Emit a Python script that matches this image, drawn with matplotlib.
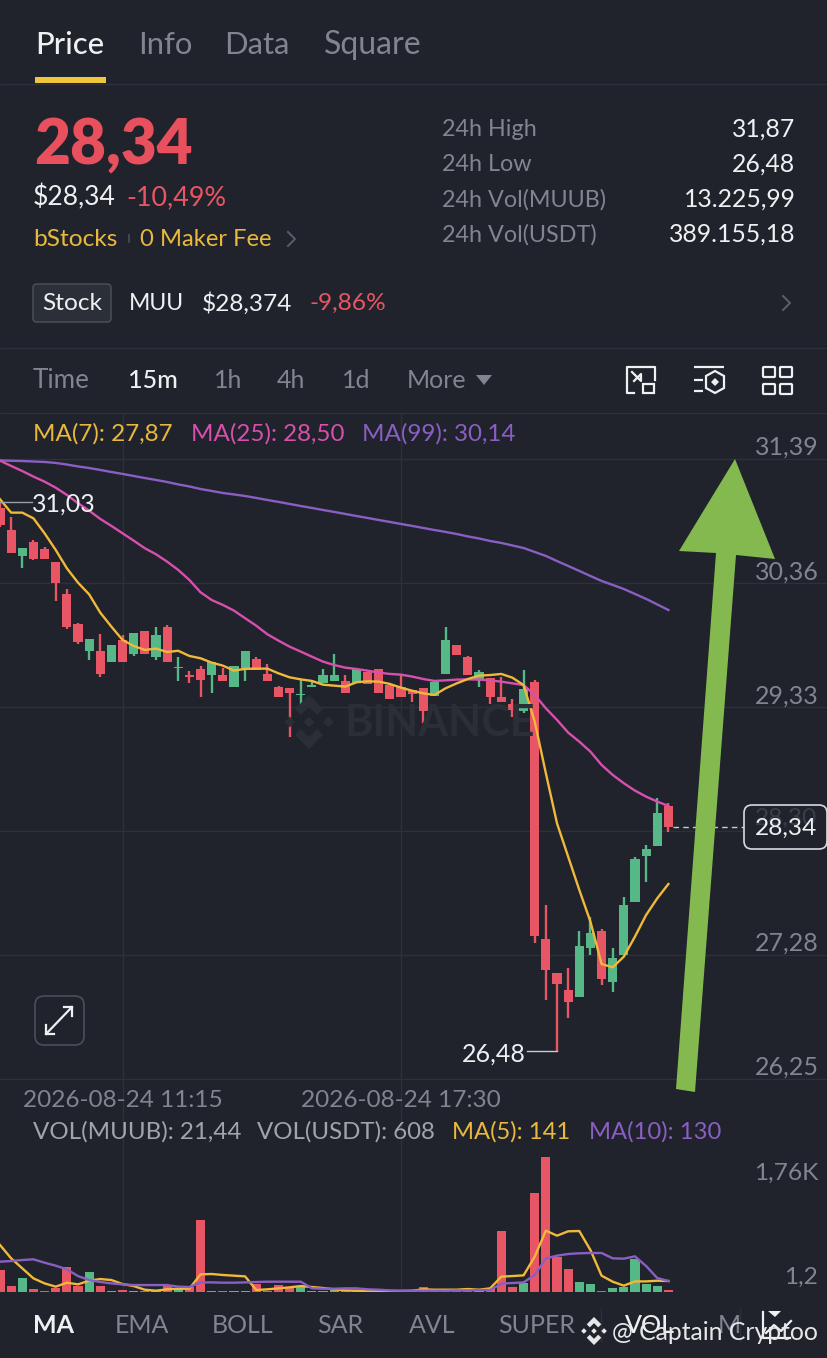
import matplotlib
matplotlib.use("Agg")
import matplotlib.pyplot as plt
import numpy as np
from matplotlib.patches import Polygon, FancyBboxPatch, Rectangle

plt.rcParams['font.family'] = ['Lato', 'DejaVu Sans']

# candles, oldest first
opens = [30.98, 30.80, 30.586, 30.705, 30.64, 30.54, 30.27, 30.02, 29.80, 29.80, 29.705, 29.89, 29.77, 29.96, 29.75, 30.00,
         29.655, 29.597, 29.647, 29.60, 29.60, 29.50, 29.64, 29.73, 29.61, 29.497, 29.489, 29.431, 29.503, 29.53, 29.552,
         29.55, 29.536, 29.62, 29.65, 29.516, 29.497, 29.475, 29.489, 29.422, 29.605, 29.848, 29.751, 29.558, 29.572,
         29.417, 29.359, 29.30, 29.539, 27.414, 27.132, 26.991, 26.933, 27.337, 27.475, 27.058, 27.279, 27.718, 28.099,
         28.179, 28.517]
closes = [30.843, 30.61, 30.655, 30.558, 30.558, 30.36, 29.995, 29.876, 29.90, 29.61, 29.85, 29.705, 29.95, 29.77, 29.93, 29.705,
          29.663, 29.585, 29.56, 29.705, 29.55, 29.67, 29.80, 29.64, 29.55, 29.42, 29.453, 29.445, 29.519, 29.60, 29.60,
          29.45, 29.646, 29.525, 29.45, 29.40, 29.414, 29.442, 29.30, 29.544, 29.889, 29.762, 29.602, 29.62, 29.42,
          29.373, 29.312, 29.481, 27.436, 27.154, 27.036, 26.892, 27.353, 27.464, 27.077, 27.251, 27.693, 28.074, 28.155,
          28.459, 28.342]
highs = [31.03, 30.91, 30.655, 30.72, 30.66, 30.54, 30.31, 30.03, 29.90, 29.94, 29.85, 29.93, 29.95, 29.96, 30.00, 30.01,
         29.75, 29.63, 29.67, 29.705, 29.655, 29.67, 29.80, 29.75, 29.69, 29.51, 29.489, 29.558, 29.558, 29.65, 29.77,
         29.60, 29.646, 29.62, 29.65, 29.516, 29.60, 29.475, 29.489, 29.544, 30.00, 29.848, 29.76, 29.64, 29.572,
         29.58, 29.40, 29.64, 29.558, 27.693, 27.132, 27.174, 27.478, 27.596, 27.491, 27.334, 27.757, 28.094, 28.188,
         28.577, 28.536]
lows = [30.83, 30.61, 30.49, 30.555, 30.558, 30.21, 29.98, 29.854, 29.72, 29.585, 29.705, 29.705, 29.76, 29.77, 29.72, 29.705,
        29.55, 29.53, 29.42, 29.45, 29.55, 29.50, 29.55, 29.64, 29.55, 29.42, 29.083, 29.351, 29.503, 29.53, 29.552,
        29.45, 29.536, 29.525, 29.45, 29.40, 29.414, 29.378, 29.20, 29.422, 29.605, 29.762, 29.602, 29.497, 29.359,
        29.373, 29.248, 29.282, 27.375, 26.906, 26.48, 26.754, 26.933, 27.279, 27.03, 26.975, 27.279, 27.718, 27.887,
        28.179, 28.298]

ma7 = [31.056, 30.945, 30.945, 30.898, 30.774, 30.636, 30.484, 30.365, 30.268, 30.116, 30.00, 29.89, 29.84, 29.807, 29.818,
       29.79, 29.80, 29.757, 29.738, 29.702, 29.677, 29.636, 29.65, 29.652, 29.652, 29.613, 29.58, 29.563, 29.55, 29.519,
       29.511, 29.503, 29.539, 29.547, 29.544, 29.525, 29.494, 29.469, 29.447, 29.434, 29.489, 29.53, 29.566, 29.594,
       29.599, 29.608, 29.577, 29.516, 29.213, 28.785, 28.37, 28.094, 27.818, 27.555, 27.204, 27.176, 27.265, 27.431,
       27.61, 27.748, 27.867]
ma25 = [31.376, 31.332, 31.29, 31.244, 31.202, 31.152, 31.092, 31.023, 30.962, 30.893, 30.835, 30.774, 30.713, 30.65, 30.60,
        30.539, 30.47, 30.387, 30.285, 30.221, 30.18, 30.133, 30.07, 30.008, 29.937, 29.884, 29.834, 29.793, 29.751, 29.71,
        29.682, 29.66, 29.649, 29.635, 29.619, 29.608, 29.602, 29.586, 29.566, 29.55, 29.555, 29.561, 29.563, 29.561,
        29.555, 29.544, 29.53, 29.516, 29.434, 29.323, 29.227, 29.122, 29.047, 28.964, 28.854, 28.771, 28.702, 28.641,
        28.591, 28.55, 28.514]
ma99 = [31.378, 31.375, 31.373, 31.369, 31.365, 31.357, 31.344, 31.328, 31.315, 31.299, 31.282, 31.266, 31.249, 31.232,
        31.216, 31.199, 31.179, 31.162, 31.141, 31.125, 31.108, 31.096, 31.083, 31.067, 31.05, 31.034, 31.017, 31.0, 30.984,
        30.967, 30.951, 30.934, 30.917, 30.901, 30.884, 30.868, 30.851, 30.835, 30.818, 30.801, 30.785, 30.768, 30.748,
        30.731, 30.71, 30.694, 30.673, 30.652, 30.619, 30.586, 30.544, 30.503, 30.462, 30.42, 30.379, 30.346, 30.312,
        30.271, 30.23, 30.184, 30.138]

volumes = [284, 79, 175, 35, 5, 44, 319, 79, 258, 79, 4, 26, 5, 6, 6, 79, 35, 66, 935, 4, 4, 4, 4, 100, 4, 88, 52, 79, 5, 5,
           26, 4, 4, 4, 4, 4, 4, 4, 66, 8, 5, 5, 52, 5, 44, 800, 57, 110, 1288, 1760, 459, 292, 131, 105, 6, 44, 66, 424,
           105, 74, 21]
vol_ma5 = [612, 437, 306, 175, 109, 66, 118, 96, 144, 166, 153, 100, 74, 26, 13, 31, 39, 39, 227, 232, 219, 210, 201, 22, 31,
           44, 57, 74, 61, 48, 31, 17, 13, 9, 9, 9, 9, 13, 31, 26, 26, 26, 35, 26, 44, 197, 205, 214, 459, 800, 734, 791,
           795, 546, 210, 131, 79, 135, 135, 144, 140]
vol_ma10 = [393, 402, 415, 424, 380, 341, 293, 205, 153, 127, 109, 96, 87, 87, 87, 87, 66, 61, 122, 122, 118, 118, 122, 127,
            131, 131, 131, 131, 44, 39, 39, 44, 44, 31, 26, 17, 13, 13, 13, 13, 13, 17, 17, 22, 22, 105, 114, 122, 219, 437,
            472, 494, 503, 507, 507, 437, 433, 463, 336, 179, 140]

price_ticks = [31.39, 30.36, 29.33, 28.31, 27.28, 26.25]
price_labels = ['31,39', '30,36', '29,33', '', '27,28', '26,25']
time_idx = [11, 36]
time_labels = ['2026-08-24 11:15', '2026-08-24 17:30']
last_price = 28.34

BG = '#20232b'
GRID = '#2d313b'
RED = '#e85564'
GREEN = '#56b886'
YELLOW = '#f0b93a'
PINK = '#d94fb0'
PURPLE = '#8a5fc4'
GREY = '#80858f'
WHITE = '#eef0f2'

W, H = 828, 1358
fig = plt.figure(figsize=(W / 100, H / 100), dpi=100, facecolor=BG)


def pane(top, bottom):
    ax = fig.add_axes([0, 1 - bottom / H, 1, (bottom - top) / H], facecolor='none')
    for s in ax.spines.values():
        s.set_visible(False)
    ax.set_xticks([])
    ax.set_yticks([])
    ax.set_xlim(0, W / 11.14)
    return ax


opens, closes, highs, lows = map(np.array, (opens, closes, highs, lows))
idx = np.arange(len(opens))
is_up = closes >= opens
colors = [GREEN if u else RED for u in is_up]

# price pane, 413..1115 px
ax = pane(413, 1115)
ax.set_ylim(25.952, 31.771)
for t in price_ticks:
    ax.axhline(t, color=GRID, lw=1, zorder=1)
for t in time_idx:
    ax.axvline(t, color=GRID, lw=1, zorder=1)
ax.vlines(idx, lows, highs, colors=colors, lw=1.7, zorder=3)
body = np.maximum(np.abs(closes - opens), 0.012)
ax.bar(idx, body, bottom=np.minimum(opens, closes), width=0.82, color=colors, zorder=3)
ax.plot(idx, ma99, color=PURPLE, lw=1.7, zorder=4)
ax.plot(idx, ma25, color=PINK, lw=1.7, zorder=5)
ax.plot(idx, ma7, color=YELLOW, lw=1.7, zorder=6)
for t, s in zip(price_ticks, price_labels):
    ax.annotate(s, (W, t), xycoords=('axes pixels', 'data'), xytext=(-6.7, 0), textcoords='offset points',
                ha='right', va='bottom', color=GREY, fontsize=18)
for t, s in zip(time_idx, time_labels):
    ax.text(t, 26.25 - 21 * 0.00829, s, ha='center', va='center', color=GREY, fontsize=17.6)
# extremes
ax.plot([0, 2.9], [31.03, 31.03], color='#9a9ea6', lw=1, zorder=6)
ax.text(2.9, 31.015, '31,03', color=WHITE, fontsize=18, va='center', zorder=7)
ax.plot([47.3, 50], [26.48, 26.48], color='#c8cace', lw=1, zorder=6)
ax.text(47.15, 26.455, '26,48', color=WHITE, fontsize=18, va='center', ha='right', zorder=7)
ax.plot([60.4, 66.8], [last_price, last_price], color='#c8cace', lw=1, ls=(0, (4, 3)), zorder=6)

# volume pane, 1115..1291.7 px
vax = pane(1115, 1291.7)
vax.set_ylim(0, 176.7 * 13.1)
vax.axhline(1, color=GRID, lw=1, zorder=1)
for t in time_idx:
    vax.axvline(t, color=GRID, lw=1, zorder=1)
vax.bar(idx, volumes, width=0.82, color=colors, zorder=3)
vax.plot(idx, vol_ma5, color=YELLOW, lw=1.7, zorder=5)
vax.plot(idx, vol_ma10, color=PURPLE, lw=1.7, zorder=6)

# everything around the chart, in screen pixels
ui = fig.add_axes([0, 0, 1, 1], facecolor='none', zorder=5)
ui.set_xlim(0, W)
ui.set_ylim(H, 0)
ui.axis('off')


def txt(x, y, s, c=GREY, px=24, w='normal', ha='left', **kw):
    ui.text(x, y + 1.5, s, color=c, fontsize=px * 0.72, fontweight=w, ha=ha, va='center', **kw)


def hline(y, c=GRID, x0=0, x1=W, lw=1):
    ui.plot([x0, x1], [y, y], color=c, lw=lw, solid_capstyle='butt')


def chevron(x, y, c='#5a5f69'):
    ui.plot([x - 4, x + 3, x - 4], [y - 7, y, y + 7], color=c, lw=1.4)


def box(x0, y0, x1, y1, r, fc='none', ec='#4a4f59', lw=1.2):
    ui.add_patch(FancyBboxPatch((x0 + r, y0 + r), x1 - x0 - 2 * r, y1 - y0 - 2 * r,
                                boxstyle=f'round,pad={r},rounding_size={r}', fc=fc, ec=ec, lw=lw))


def diamond_logo(cx, cy, s, c, z=2):
    # four small diamonds and a centre one
    d = s * 0.2
    for dx, dy in [(0, 0), (-s * 0.72, 0), (s * 0.72, 0)]:
        ui.add_patch(Polygon([(cx + dx - d, cy + dy), (cx + dx, cy + dy - d), (cx + dx + d, cy + dy), (cx + dx, cy + dy + d)],
                             color=c, lw=0, zorder=z))
    for sg in (-1, 1):
        ui.add_patch(Polygon([(cx, cy + sg * s), (cx + s * 0.52, cy + sg * s * 0.48), (cx + s * 0.3, cy + sg * s * 0.26),
                              (cx, cy + sg * s * 0.56), (cx - s * 0.3, cy + sg * s * 0.26), (cx - s * 0.52, cy + sg * s * 0.48)],
                             color=c, lw=0, zorder=z))


# tabs
txt(35, 43, 'Price', WHITE, 31, 'medium')
txt(138, 43, 'Info', GREY, 31)
txt(224, 43, 'Data', GREY, 31)
txt(324, 43, 'Square', GREY, 32)
ui.add_patch(Rectangle((35, 77), 71, 6, color='#f0c53c', lw=0))
hline(83.5)

# header
txt(34, 144, '28,34', '#e9505e', 62, 'heavy')
txt(33, 196, '$28,34', WHITE, 26.5)
txt(126, 196, '-10,49%', RED, 27)
txt(33, 238, 'bStocks', '#e8b93c', 24.5)
ui.plot([129, 129], [235, 242], color='#4a4f59', lw=1.2)
txt(140, 238, '0 Maker Fee', '#e8b93c', 23.8)
chevron(292, 239)
for y, lab, val in [(129, '24h High', '31,87'), (164, '24h Low', '26,48'),
                    (199, '24h Vol(MUUB)', '13.225,99'), (234, '24h Vol(USDT)', '389.155,18')]:
    txt(442, y - 1, lab, GREY, 23.4)
    txt(795.5, y - 1, val, WHITE, 24.7, ha='right')

box(33, 284, 111, 322, 4, fc='#2b2f37', ec='#474c55')
txt(72, 302, 'Stock', WHITE, 24.5, ha='center')
txt(129, 302, 'MUU', WHITE, 23)
txt(202, 302, '$28,374', WHITE, 24.4)
txt(310, 302, '-9,86%', RED, 24.5)
chevron(787, 303)
hline(347.5)

# timeframe row
txt(33, 379, 'Time', GREY, 26)
txt(128, 379, '15m', WHITE, 25, 'medium')
txt(214, 379, '1h', GREY, 25)
txt(277, 379, '4h', GREY, 25)
txt(342, 379, '1d', GREY, 25)
txt(407, 379, 'More', GREY, 25)
ui.add_patch(Polygon([(476, 375), (492, 375), (484, 385)], color=GREY, lw=0))
# layout icons
ui.plot([655, 655, 627, 627, 634], [380, 367, 367, 393, 393], color=WHITE, lw=1.6)
ui.add_patch(Rectangle((643, 384), 11, 9, fc='none', ec=WHITE, lw=1.6))
ui.plot([632, 641, 641, 634], [372, 381, 374, 381], color=WHITE, lw=1.6)
hline(367, WHITE, 694, 724, 1.6)
hline(380, WHITE, 694, 703, 1.6)
hline(391, WHITE, 694, 703, 1.6)
ui.add_patch(Polygon([(715, 371), (724, 376), (724, 388), (715, 393), (706, 388), (706, 376)], fc='none', ec=WHITE, lw=1.6))
ui.add_patch(Polygon([(715, 378), (719, 382), (715, 386), (711, 382)], color=WHITE, lw=0))
for gx in (763, 780):
    for gy in (367, 384):
        box(gx, gy, gx + 12, gy + 10, 1, ec=WHITE, lw=1.6)
hline(412.5)

# indicator legends
txt(33, 432, 'MA(7): 27,87', '#e8b93c', 24.2)
txt(191, 432, 'MA(25): 28,50', PINK, 24.1)
txt(362, 432, 'MA(99): 30,14', PURPLE, 24.1)
txt(33, 1130, 'VOL(MUUB): 21,44', '#a0a4ac', 24.1)
txt(257, 1130, 'VOL(USDT): 608', '#a0a4ac', 24)
txt(452, 1130, 'MA(5): 141', '#e8b93c', 23.8)
txt(589, 1130, 'MA(10): 130', PURPLE, 23.8)
txt(818, 1172, '1,76K', GREY, 24.5, ha='right')
txt(818, 1276, '1,2', GREY, 24.5, ha='right')

# chart watermark and expand button
diamond_logo(309, 722, 27, '#2a2e36', z=0)
txt(345, 722, 'BINANCE', '#2a2e36', 43, 'bold', zorder=0)
box(35, 996, 84, 1045, 9, fc=BG, ec='#4a4f59')
ui.plot([46, 72], [1034, 1007], color=WHITE, lw=1.6)
ui.plot([46, 46, 54], [1025, 1034, 1034], color=WHITE, lw=1.6)
ui.plot([64, 72, 72], [1007, 1007, 1016], color=WHITE, lw=1.6)

# current price tag, the hidden axis label shows through it
box(744, 805, 827, 849, 8, fc=BG, ec='#d8dadd')
txt(786, 817, '28,30', '#3a3e47', 24.5, ha='center')
txt(786, 827, '28,34', WHITE, 24.5, ha='center')

# bottom indicator tabs
txt(33, 1324, 'MA', WHITE, 25, 'bold')
for x, s in [(115, 'EMA'), (212, 'BOLL'), (317, 'SAR'), (409, 'AVL'), (498, 'SUPER')]:
    txt(x, 1324, s, GREY, 25)
txt(625, 1324, 'VOL', WHITE, 25, 'medium')
txt(718, 1324, 'M', GREY, 25)
for x in (601, 740):
    ui.plot([x, x], [1309, 1341], color=GRID, lw=1)
ui.plot([763, 763, 790], [1312, 1338, 1338], color=WHITE, lw=1.6)
ui.plot([766, 774, 781, 791], [1333, 1325, 1331, 1321], color=WHITE, lw=1.6)
ui.add_patch(Polygon([(768, 1311), (781, 1311), (775, 1317)], color=WHITE, lw=0))
diamond_logo(594, 1331, 14, '#e6e7e9', z=8)
txt(612, 1331, '@ Captain Cryptoo', '#e6e7e9', 24.7, zorder=8)

# hand-drawn arrow over the chart
ui.add_patch(Polygon([(735, 459), (775, 559), (736, 555), (695, 1092), (676, 1089), (716, 553), (679, 551)],
                     color='#84b94f', lw=0, zorder=7))

fig.savefig('out.png', dpi=100, facecolor=BG)
